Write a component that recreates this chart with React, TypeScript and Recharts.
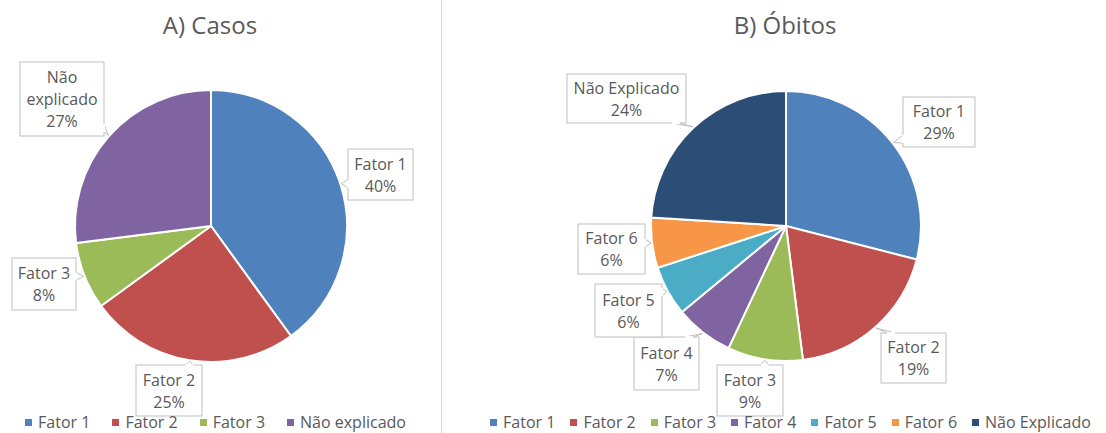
import React from 'react';
import { PieChart, Pie, Cell, Legend } from 'recharts';

// ---------- data ----------
const casosCategories = ['Fator 1', 'Fator 2', 'Fator 3', 'Não explicado'];
const casosValues = [40, 25, 8, 27];
const casosLabelLines = [['Fator 1'], ['Fator 2'], ['Fator 3'], ['Não', 'explicado']];

const obitosCategories = ['Fator 1', 'Fator 2', 'Fator 3', 'Fator 4', 'Fator 5', 'Fator 6', 'Não Explicado'];
const obitosValues = [29, 19, 9, 7, 6, 6, 24];
const obitosLabelLines = [['Fator 1'], ['Fator 2'], ['Fator 3'], ['Fator 4'], ['Fator 5'], ['Fator 6'], ['Não Explicado']];

const titleCasos = 'A) Casos';
const titleObitos = 'B) Óbitos';

// ---------- styles / layout ----------
const FONT = '"Open Sans", "Noto Sans", sans-serif';
const TEXT = '#595959';
const BORDER = '#BFBFBF';
const casosColors = ['#4F81BD', '#C0504D', '#9BBB59', '#8064A2'];
const obitosColors = ['#4F81BD', '#C0504D', '#9BBB59', '#8064A2', '#4BACC6', '#F79646', '#2C4D75'];

type Box = { dx: number; dy: number; w: number; h: number; side: 'left' | 'right' | 'top' | 'bottom' };
const casosBoxes: Box[] = [
  { dx: 169.5, dy: -51.5, w: 65, h: 51, side: 'left' },
  { dx: -42, dy: 164.5, w: 66, h: 51, side: 'top' },
  { dx: -167, dy: 58, w: 64, h: 52, side: 'right' },
  { dx: -149, dy: -127, w: 84, h: 74, side: 'right' },
];
const obitosBoxes: Box[] = [
  { dx: 153, dy: -104, w: 72, h: 50, side: 'left' },
  { dx: 127.5, dy: 132, w: 65, h: 50, side: 'top' },
  { dx: -36, dy: 164.5, w: 66, h: 51, side: 'top' },
  { dx: -119.5, dy: 137.5, w: 65, h: 53, side: 'top' },
  { dx: -157.5, dy: 84.5, w: 67, h: 53, side: 'right' },
  { dx: -174.5, dy: 23, w: 67, h: 50, side: 'right' },
  { dx: -159.5, dy: -127.5, w: 119, h: 49, side: 'bottom' },
];

const makeData = (cats: string[], vals: number[]) => cats.map((name, i) => ({ name, value: vals[i] }));
const casosData = makeData(casosCategories, casosValues);
const obitosData = makeData(obitosCategories, obitosValues);

const RAD = Math.PI / 180;

function makeLabel(lines: string[][], boxes: Box[], values: number[]) {
  return (props: any) => {
    const { cx, cy, midAngle, outerRadius, index } = props;
    const tx = cx + (outerRadius + 1) * Math.cos(-midAngle * RAD);
    const ty = cy + (outerRadius + 1) * Math.sin(-midAngle * RAD);
    const b = boxes[index];
    const x0 = cx + b.dx - b.w / 2;
    const y0 = cy + b.dy - b.h / 2;
    const x1 = x0 + b.w;
    const y1 = y0 + b.h;
    const hw = 4;
    const clamp = (v: number, a: number, c: number) => Math.max(a, Math.min(c, v));
    let p1: [number, number], p2: [number, number];
    if (b.side === 'left' || b.side === 'right') {
      const ex = b.side === 'left' ? x0 : x1;
      const by = clamp(ty, y0 + 8, y1 - 8);
      p1 = [ex, by - hw];
      p2 = [ex, by + hw];
    } else {
      const ey = b.side === 'top' ? y0 : y1;
      const bx = clamp(tx, x0 + 10, x1 - 10);
      p1 = [bx - hw, ey];
      p2 = [bx + hw, ey];
    }
    const allLines = [...lines[index], `${values[index]}%`];
    const n = allLines.length;
    const ccx = (x0 + x1) / 2;
    const ccy = (y0 + y1) / 2;
    return (
      <g key={`lbl-${index}`}>
        <rect x={x0} y={y0} width={b.w} height={b.h} fill="#fff" stroke={BORDER} strokeWidth={1} />
        <polygon points={`${p1[0]},${p1[1]} ${tx},${ty} ${p2[0]},${p2[1]}`} fill="#fff" stroke={BORDER} strokeWidth={1} />
        <line x1={p1[0]} y1={p1[1]} x2={p2[0]} y2={p2[1]} stroke="#fff" strokeWidth={2} />
        {allLines.map((t, i) => (
          <text
            key={i}
            x={ccx}
            y={ccy + (i - (n - 1) / 2) * 22}
            textAnchor="middle"
            dominantBaseline="central"
            fontFamily={FONT}
            fontSize={16}
            fill={TEXT}
          >
            {t}
          </text>
        ))}
      </g>
    );
  };
}

function makeLegend(names: string[], colors: string[], gap: number, shift: number) {
  return () => (
    <div
      style={{
        display: 'flex',
        justifyContent: 'center',
        alignItems: 'center',
        gap,
        fontFamily: FONT,
        fontSize: 16,
        color: TEXT,
        lineHeight: '20px',
        whiteSpace: 'nowrap',
        transform: `translateX(${shift}px)`,
      }}
    >
      {names.map((n, i) => (
        <span key={n} style={{ display: 'flex', alignItems: 'center' }}>
          <span style={{ display: 'inline-block', width: 7, height: 7, background: colors[i], marginRight: 6 }} />
          {n}
        </span>
      ))}
    </div>
  );
}

const titleStyle = (center: number): React.CSSProperties => ({
  position: 'absolute',
  top: 8,
  left: center - 150,
  width: 300,
  textAlign: 'center',
  fontFamily: FONT,
  fontSize: 24,
  color: TEXT,
  lineHeight: '34px',
});

export default function App() {
  return (
    <div style={{ position: 'absolute', left: 0, top: 0, width: 1106, height: 433, background: '#fff', overflow: 'hidden' }}>
      <div style={{ position: 'absolute', left: 0, top: 0 }}>
        <PieChart width={441} height={433} margin={{ top: 0, right: 0, bottom: 0, left: 0 }}>
          <Pie
            data={casosData}
            dataKey="value"
            nameKey="name"
            cx={211}
            cy={226}
            outerRadius={136}
            startAngle={90}
            endAngle={-270}
            stroke="#fff"
            strokeWidth={2}
            isAnimationActive={false}
            labelLine={false}
            label={makeLabel(casosLabelLines, casosBoxes, casosValues)}
          >
            {casosData.map((d, i) => (
              <Cell key={d.name} fill={casosColors[i]} />
            ))}
          </Pie>
          <Legend verticalAlign="bottom" wrapperStyle={{ bottom: 1 }} content={makeLegend(casosCategories, casosColors, 22, -5)} />
        </PieChart>
      </div>
      <div style={titleStyle(210)}>{titleCasos}</div>
      <div style={{ position: 'absolute', left: 441, top: 0, width: 1, height: 433, background: '#D9D9D9' }} />
      <div style={{ position: 'absolute', left: 441, top: 0 }}>
        <PieChart width={665} height={433} margin={{ top: 0, right: 0, bottom: 0, left: 0 }}>
          <Pie
            data={obitosData}
            dataKey="value"
            nameKey="name"
            cx={345}
            cy={226}
            outerRadius={135}
            startAngle={90}
            endAngle={-270}
            stroke="#fff"
            strokeWidth={2}
            isAnimationActive={false}
            labelLine={false}
            label={makeLabel(obitosLabelLines, obitosBoxes, obitosValues)}
          >
            {obitosData.map((d, i) => (
              <Cell key={d.name} fill={obitosColors[i]} />
            ))}
          </Pie>
          <Legend verticalAlign="bottom" wrapperStyle={{ bottom: 1 }} content={makeLegend(obitosCategories, obitosColors, 15, 17)} />
        </PieChart>
      </div>
      <div style={titleStyle(785)}>{titleObitos}</div>
    </div>
  );
}
